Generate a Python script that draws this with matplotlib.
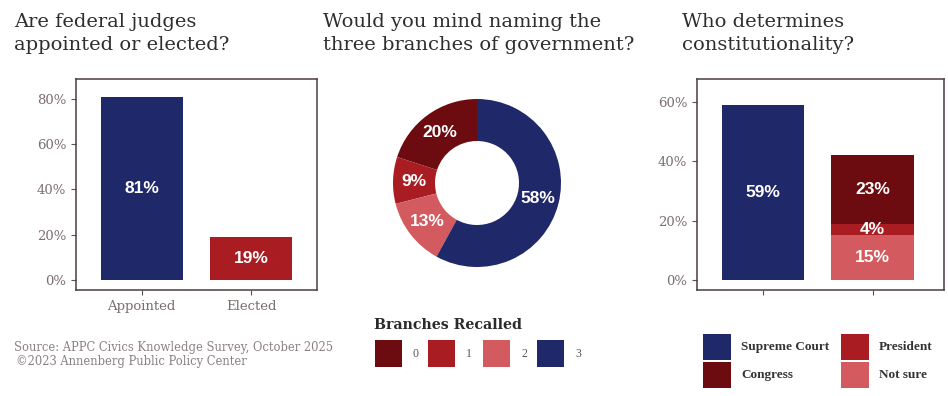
import matplotlib
matplotlib.use("Agg")
import matplotlib.pyplot as plt
from matplotlib.patches import Rectangle
import numpy as np

# ---- data ----
judge_labels = ["Appointed", "Elected"]
judge_values = [81, 19]

branch_levels = ["0", "1", "2", "3"]
branch_values = [20, 9, 13, 58]

court_supreme = [59]
court_stack_names = ["Not sure", "President", "Congress"]
court_stack_values = [15, 4, 23]

# ---- styling ----
NAVY = "#1f2869"
DARK_RED = "#6d0c10"
RED = "#a81c22"
LIGHT_RED = "#d35a5e"
SPINE = "#4a3d3d"
TICK_TXT = "#7a6f6f"
SERIF = "DejaVu Serif"
SERIF_NARROW = "Liberation Serif"
SANS = "Liberation Sans"

W, H = 948, 396
fig = plt.figure(figsize=(W / 100, H / 100), dpi=100)
fig.patch.set_facecolor("white")


def rect(left, top, right, bottom):
    return [left / W, 1 - bottom / H, (right - left) / W, (bottom - top) / H]


def style_box(ax):
    for s in ax.spines.values():
        s.set_color(SPINE)
        s.set_linewidth(1.1)
    ax.tick_params(axis="both", colors="#555555", length=3.5, width=0.8,
                   labelcolor=TICK_TXT, labelsize=9.5)
    for lab in ax.get_yticklabels() + ax.get_xticklabels():
        lab.set_fontfamily(SERIF)


def pct(v):
    return f"{v}%"


val_kw = dict(ha="center", va="center", color="white", fontsize=12.5,
              fontweight="bold", family=SANS)

# ---- panel 1: judges ----
ax1 = fig.add_axes(rect(76, 79, 317, 290))
pos1 = [1, 2]
ax1.bar(pos1, judge_values, width=0.75, color=[NAVY, RED])
for x, v in zip(pos1, judge_values):
    ax1.text(x, v / 2, pct(v), **val_kw)
ax1.set_xlim(0.4, 2.6)
ax1.set_ylim(-4.4, 88.8)
ax1.set_yticks([0, 20, 40, 60, 80])
ax1.set_yticklabels([pct(t) for t in [0, 20, 40, 60, 80]])
ax1.set_xticks(pos1)
ax1.set_xticklabels(judge_labels)
style_box(ax1)

# ---- panel 2: branches donut ----
ax2 = fig.add_axes(rect(393, 99, 561, 267))
colors2 = [DARK_RED, RED, LIGHT_RED, NAVY]
ax2.pie(branch_values, colors=colors2, startangle=90, counterclock=True,
        radius=1.0, wedgeprops=dict(width=0.5, linewidth=0))
total = sum(branch_values)
ang = 90.0
for v in branch_values:
    mid = np.deg2rad(ang + 360 * v / total / 2)
    ax2.text(0.75 * np.cos(mid), 0.75 * np.sin(mid), pct(v), **val_kw)
    ang += 360 * v / total
ax2.set_xlim(-1, 1)
ax2.set_ylim(-1, 1)
ax2.set_aspect("equal")
ax2.axis("off")

# ---- panel 3: constitutionality ----
ax3 = fig.add_axes(rect(697, 79, 944, 290))
ax3.bar([1], court_supreme, width=0.75, color=NAVY)
ax3.text(1, court_supreme[0] / 2, pct(court_supreme[0]), **val_kw)
bottom = 0
for name, v, c in zip(court_stack_names, court_stack_values,
                      [LIGHT_RED, RED, DARK_RED]):
    ax3.bar([2], [v], bottom=bottom, width=0.75, color=c)
    ax3.text(2, bottom + v / 2, pct(v), **val_kw)
    bottom += v
ax3.set_xlim(0.4, 2.65)
ax3.set_ylim(-3.4, 67.8)
ax3.set_yticks([0, 20, 40, 60])
ax3.set_yticklabels([pct(t) for t in [0, 20, 40, 60]])
ax3.set_xticks([1, 2])
ax3.set_xticklabels(["", ""])
style_box(ax3)

# ---- overlay for titles, legends, source ----
ov = fig.add_axes([0, 0, 1, 1], zorder=-1)
ov.set_xlim(0, W)
ov.set_ylim(H, 0)
ov.axis("off")

title_kw = dict(fontsize=14, family=SERIF, color="#2e2e2e", va="baseline",
                ha="left")
ov.text(14, 27, "Are federal judges", **title_kw)
ov.text(14, 50, "appointed or elected?", **title_kw)
ov.text(323, 27, "Would you mind naming the", **title_kw)
ov.text(323, 50, "three branches of government?", **title_kw)
ov.text(682, 27, "Who determines", **title_kw)
ov.text(682, 50, "constitutionality?", **title_kw)

# donut legend
ov.text(374, 329, "Branches Recalled", fontsize=10.2, fontweight="bold",
        family=SERIF, color="#2b2b2b", va="baseline", ha="left")
key_x = [375, 428, 483, 537]
for x, lab, c in zip(key_x, branch_levels, colors2):
    ov.add_patch(Rectangle((x, 340), 27, 27, facecolor=c, edgecolor="none"))
    ov.text(x + 41, 354, lab, fontsize=8.5, family=SERIF_NARROW,
            color="#555555", ha="center", va="center")

# stacked-bar legend
legend3 = [("Supreme Court", NAVY, 703, 334), ("Congress", DARK_RED, 703, 362),
           ("President", RED, 841, 334), ("Not sure", LIGHT_RED, 841, 362)]
for lab, c, x, y in legend3:
    ov.add_patch(Rectangle((x, y), 28, 26, facecolor=c, edgecolor="none"))
    ov.text(x + 38, y + 13, lab, fontsize=9.5, fontweight="bold",
            family=SERIF_NARROW, color="#333333", ha="left", va="center")

# source note
src_kw = dict(fontsize=8.3, family=SERIF, color="#8a8080", ha="left",
              va="center")
ov.text(14, 348, "Source: APPC Civics Knowledge Survey, October 2025", **src_kw)
ov.text(16, 362, "\u00a92023 Annenberg Public Policy Center", **src_kw)

fig.savefig("out.png", dpi=100, facecolor="white")
